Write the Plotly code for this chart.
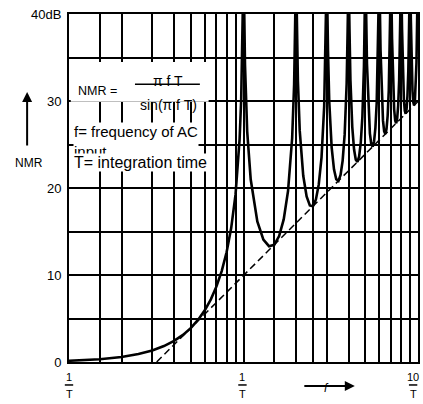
import plotly.graph_objects as go

# ---- data ----
# frequency in units of 1/T, NMR in dB (spikes at integer multiples run off the top)
f_vals = [
    0.10, 0.15, 0.20, 0.25, 0.30, 0.35, 0.40, 0.45, 0.50, 0.55, 0.60, 0.65, 0.70, 0.75,
    0.80, 0.85, 0.90, 0.93, 0.95, 0.97, 0.98, 0.99, 1.00,
    1.01, 1.02, 1.05, 1.10, 1.20, 1.30, 1.40, 1.50, 1.60, 1.70, 1.80, 1.90, 1.95, 1.98, 2.00,
    2.02, 2.05, 2.10, 2.20, 2.30, 2.40, 2.50, 2.60, 2.70, 2.80, 2.90, 2.95, 2.98, 3.00,
    3.05, 3.10, 3.20, 3.30, 3.40, 3.50, 3.60, 3.70, 3.80, 3.90, 3.95, 4.00,
    4.05, 4.10, 4.20, 4.30, 4.40, 4.50, 4.60, 4.70, 4.80, 4.90, 4.95, 5.00,
    5.10, 5.20, 5.30, 5.40, 5.50, 5.60, 5.70, 5.80, 5.90, 6.00,
    6.10, 6.20, 6.30, 6.40, 6.50, 6.60, 6.70, 6.80, 6.90, 7.00,
    7.10, 7.20, 7.30, 7.40, 7.50, 7.60, 7.70, 7.80, 7.90, 8.00,
    8.10, 8.20, 8.30, 8.40, 8.50, 8.60, 8.70, 8.80, 8.90, 9.00,
    9.10, 9.20, 9.30, 9.40, 9.50, 9.60, 9.70, 9.80, 9.90, 10.00,
]
nmr_db = [
    0.14, 0.32, 0.58, 0.91, 1.32, 1.83, 2.42, 3.11, 3.92, 4.86, 5.94, 7.20, 8.69, 10.45,
    12.62, 15.39, 19.23, 22.54, 25.61, 30.2, 33.8, 39.9, 45.0,
    40.09, 34.16, 26.48, 20.97, 16.15, 14.06, 13.31, 13.47, 14.47, 16.39, 19.67, 25.72, 31.85, 39.92, 45.0,
    40.09, 32.29, 26.59, 21.41, 19.02, 17.99, 17.90, 18.68, 20.41, 23.51, 29.39, 35.45, 43.47, 45.0,
    35.74, 29.97, 24.67, 22.15, 21.01, 20.82, 21.51, 23.15, 26.16, 31.96, 37.99, 45.0,
    38.20, 32.40, 27.03, 24.45, 23.25, 23.01, 23.64, 25.23, 28.19, 33.95, 39.95, 45.0,
    34.29, 28.88, 26.27, 25.03, 24.75, 25.35, 26.90, 29.83, 35.56, 45.0,
    35.85, 30.41, 27.77, 26.51, 26.20, 26.77, 28.30, 31.21, 36.92, 45.0,
    37.17, 31.71, 29.05, 27.77, 27.44, 28.00, 29.51, 32.41, 38.10, 45.0,
    38.31, 32.84, 30.17, 28.87, 28.53, 29.07, 30.57, 33.45, 39.13, 45.0,
    39.32, 33.84, 31.15, 29.85, 29.50, 30.03, 31.52, 34.39, 40.06, 45.0,
]
# asymptote (dashed)
asym_f = [0.318, 10.0]
asym_db = [0.0, 29.94]

# grid / ticks
x_grid = [0.1, 0.15, 0.2, 0.3, 0.4, 0.5, 0.6, 0.7, 0.8, 0.9,
          1, 1.5, 2, 2.5, 3, 4, 5, 6, 7, 8, 9, 10]
y_grid = [0, 5, 10, 15, 20, 25, 30, 35, 40]
y_text = ["0", "", "10", "", "20", "", "30", "", "40dB"]
x_lab_num = ["1", "1", "10"]
x_lab_den = ["T", "T", "T"]

FONT = "Liberation Sans"
fig = go.Figure()
fig.add_trace(go.Scatter(x=asym_f, y=asym_db, mode="lines",
                         line=dict(color="black", width=1.5, dash="7px,4px"),
                         hoverinfo="skip", showlegend=False))
fig.add_trace(go.Scatter(x=f_vals, y=nmr_db, mode="lines",
                         line=dict(color="black", width=2.6),
                         hoverinfo="skip", showlegend=False))

fig.update_layout(
    width=423, height=404, autosize=False,
    margin=dict(l=69, r=5, t=14, b=42),
    plot_bgcolor="white", paper_bgcolor="white",
    font=dict(family=FONT, size=13, color="black"),
    showlegend=False,
)
fig.update_xaxes(type="log", range=[-1, 1], tickvals=x_grid, showticklabels=False,
                 showgrid=True, gridcolor="black", gridwidth=1.7,
                 showline=True, linecolor="black", linewidth=2, mirror=True,
                 ticks="", zeroline=False, automargin=False)
fig.update_yaxes(range=[0, 40], tickvals=y_grid, ticktext=y_text,
                 showgrid=True, gridcolor="black", gridwidth=2,
                 showline=True, linecolor="black", linewidth=2, mirror=True,
                 ticks="", ticklabelstandoff=3, zeroline=False, automargin=False,
                 tickfont=dict(family=FONT, size=13))

# x-axis fraction labels (at 0.1/T, 1/T, 10/T)
for px, num, den in zip([0.0, 0.497, 0.986], x_lab_num, x_lab_den):
    fig.add_annotation(x=px, y=-0.043, xref="paper", yref="paper", text=num,
                       showarrow=False, font=dict(size=11), xanchor="center",
                       yanchor="middle")
    fig.add_annotation(x=px, y=-0.093, xref="paper", yref="paper", text=den,
                       showarrow=False, font=dict(size=11), xanchor="center",
                       yanchor="middle")
    fig.add_shape(type="line", xref="paper", yref="paper", x0=px - 0.012, x1=px + 0.012,
                  y0=-0.066, y1=-0.066, line=dict(color="black", width=1.5))

# f arrow
fig.add_annotation(x=0.819, y=-0.069, xref="paper", yref="paper",
                   ax=-52, ay=0, text="", showarrow=True,
                   arrowhead=2, arrowsize=1, arrowwidth=2, arrowcolor="black")
fig.add_annotation(x=0.739, y=-0.10, xref="paper", yref="paper", text="<i>f</i>",
                   showarrow=False, font=dict(size=12), xanchor="center")

# NMR label with arrow
fig.add_annotation(x=-0.12, y=0.776, xref="paper", yref="paper",
                   ax=0, ay=55, text="", showarrow=True,
                   arrowhead=2, arrowsize=1, arrowwidth=2, arrowcolor="black")
fig.add_annotation(x=-0.115, y=0.572, xref="paper", yref="paper", text="NMR",
                   showarrow=False, font=dict(size=12), xanchor="center")

# white backing behind the formula, then the fraction bar
fig.add_shape(type="rect", xref="paper", yref="paper", x0=0.005, x1=0.40,
              y0=0.748, y1=0.862, line=dict(width=0), fillcolor="white", layer="above")
fig.add_shape(type="line", xref="paper", yref="paper", x0=0.189, x1=0.375,
              y0=0.798, y1=0.798, line=dict(color="black", width=1.5), layer="above")

fig.add_annotation(x=0.02, y=0.805, xref="paper", yref="paper", text="NMR =",
                   xanchor="left", showarrow=False, font=dict(size=12.5))
fig.add_annotation(x=0.284, y=0.837, xref="paper", yref="paper", text="\u03c0 f T",
                   xanchor="center", showarrow=False, font=dict(size=14))
fig.add_annotation(x=0.284, y=0.766, xref="paper", yref="paper", text="sin(\u03c0 f T)",
                   xanchor="center", showarrow=False, font=dict(size=14))
fig.add_annotation(x=0.012, y=0.690, xref="paper", yref="paper",
                   text="f= frequency of AC<br>input", xanchor="left", align="left",
                   showarrow=False, font=dict(size=15), bgcolor="white", borderpad=0)
fig.add_annotation(x=0.012, y=0.572, xref="paper", yref="paper",
                   text="T= integration time", xanchor="left", showarrow=False,
                   font=dict(size=16), bgcolor="white", borderpad=0)

fig.write_html("out.html", config={"displayModeBar": False},
               post_script="document.body.style.margin='0px';")
